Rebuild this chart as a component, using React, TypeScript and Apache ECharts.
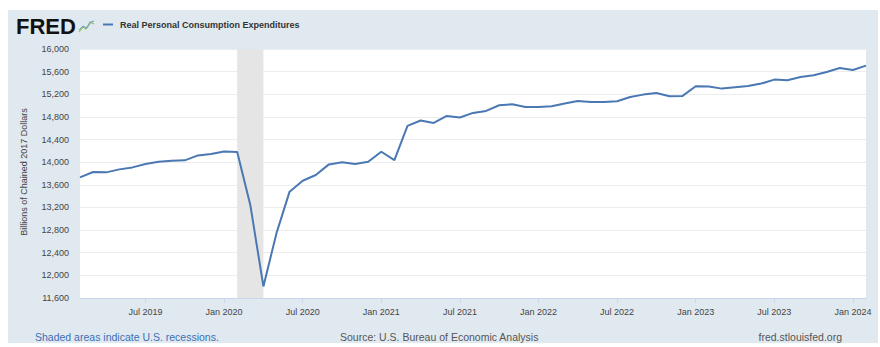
import React, { useEffect, useRef } from "react";
import * as echarts from "echarts";

const dates = [
  "2019-02", "2019-03", "2019-04", "2019-05", "2019-06", "2019-07", "2019-08", "2019-09", "2019-10", "2019-11", "2019-12",
  "2020-01", "2020-02", "2020-03", "2020-04", "2020-05", "2020-06", "2020-07", "2020-08", "2020-09", "2020-10", "2020-11", "2020-12",
  "2021-01", "2021-02", "2021-03", "2021-04", "2021-05", "2021-06", "2021-07", "2021-08", "2021-09", "2021-10", "2021-11", "2021-12",
  "2022-01", "2022-02", "2022-03", "2022-04", "2022-05", "2022-06", "2022-07", "2022-08", "2022-09", "2022-10", "2022-11", "2022-12",
  "2023-01", "2023-02", "2023-03", "2023-04", "2023-05", "2023-06", "2023-07", "2023-08", "2023-09", "2023-10", "2023-11", "2023-12",
  "2024-01", "2024-02",
];

const pce = [
  13732, 13826, 13820, 13873, 13908, 13967, 14007, 14025, 14032, 14120, 14143,
  14190, 14178, 13244, 11805, 12746, 13479, 13672, 13773, 13961, 13997, 13967, 14007,
  14184, 14037, 14642, 14737, 14694, 14818, 14790, 14871, 14906, 15006, 15024, 14976,
  14976, 14989, 15036, 15082, 15064, 15064, 15077, 15152, 15194, 15223, 15165, 15171,
  15341, 15336, 15300, 15323, 15346, 15389, 15459, 15447, 15505, 15535, 15593, 15664,
  15628, 15706,
];

const monthNames: Record<string, string> = { "01": "Jan", "07": "Jul" };
const recession = ["2020-02", "2020-04"];
const yTicks = { min: 11600, max: 16000, interval: 400 };

const FONT = "'Liberation Sans', Arial, sans-serif";

export default function App() {
  const ref = useRef<HTMLDivElement>(null);
  useEffect(() => {
    if (!ref.current) return;
    const chart = echarts.init(ref.current, null, { renderer: "svg" });
    const showLabel = (_i: number, v: string) => v.endsWith("-01") || v.endsWith("-07");
    chart.setOption({
      animation: false,
      backgroundColor: "#e1e9f0",
      grid: {
        left: 72,
        right: 12,
        top: 39,
        bottom: 45,
        show: true,
        backgroundColor: "#ffffff",
        borderWidth: 0,
      },
      xAxis: {
        type: "category",
        data: dates,
        boundaryGap: false,
        axisLine: { show: true, lineStyle: { color: "#ccd6eb", width: 1 } },
        axisTick: { show: true, interval: showLabel, length: 5, lineStyle: { color: "#ccd6eb" } },
        axisLabel: {
          interval: showLabel,
          margin: 9,
          color: "#444",
          fontFamily: FONT,
          fontSize: 9,
          formatter: (v: string) => `${monthNames[v.slice(5)] || ""} ${v.slice(0, 4)}`,
        },
        splitLine: { show: false },
      },
      yAxis: {
        type: "value",
        min: yTicks.min,
        max: yTicks.max,
        interval: yTicks.interval,
        axisLine: { show: false },
        axisTick: { show: false },
        axisLabel: {
          margin: 11,
          color: "#444",
          fontFamily: FONT,
          fontSize: 9,
          padding: [0, 0, 6, 0],
          formatter: (v: number) => v.toLocaleString("en-US"),
        },
        splitLine: { show: true, lineStyle: { color: "#ececec", width: 1 } },
      },
      series: [
        {
          type: "line",
          data: pce,
          symbol: "none",
          lineStyle: { color: "#4a78b3", width: 2 },
          markArea: {
            silent: true,
            itemStyle: { color: "#e5e5e5" },
            data: [[{ xAxis: recession[0] }, { xAxis: recession[1] }]],
          },
        },
      ],
      graphic: [
        {
          type: "text",
          left: 8,
          top: 5,
          style: {
            text: "FRED",
            fontFamily: FONT,
            fontSize: 22,
            fontWeight: 900,
            fill: "#111",
          },
        },
        {
          type: "polyline",
          shape: { points: [[71, 22], [75, 17], [78, 19], [82, 12], [86, 14]] },
          style: { stroke: "#8bbf5a", lineWidth: 1.2, fill: null },
        },
        {
          type: "polyline",
          shape: { points: [[71, 20], [75, 16], [79, 18], [83, 12], [86, 11]] },
          style: { stroke: "#6a9ad0", lineWidth: 1, fill: null },
        },
        {
          type: "line",
          shape: { x1: 95, y1: 14.5, x2: 105, y2: 14.5 },
          style: { stroke: "#4a78b3", lineWidth: 2 },
        },
        {
          type: "text",
          x: 112,
          y: 14.5,
          style: {
            text: "Real Personal Consumption Expenditures",
            fontFamily: FONT,
            fontSize: 9,
            fontWeight: "bold",
            fill: "#333",
            verticalAlign: "middle",
            align: "left",
          },
        },
        {
          type: "text",
          x: 16,
          y: 162,
          rotation: Math.PI / 2,
          style: {
            text: "Billions of Chained 2017 Dollars",
            fontFamily: FONT,
            fontSize: 9,
            fill: "#444",
            align: "center",
            verticalAlign: "middle",
          },
        },
        {
          type: "text",
          x: 27,
          y: 327,
          style: {
            text: "Shaded areas indicate U.S. recessions.",
            fontFamily: FONT,
            fontSize: 10.5,
            fill: "#3a6fb5",
            verticalAlign: "middle",
            align: "left",
          },
        },
        {
          type: "text",
          x: 332,
          y: 327,
          style: {
            text: "Source: U.S. Bureau of Economic Analysis",
            fontFamily: FONT,
            fontSize: 10.5,
            fill: "#555",
            verticalAlign: "middle",
            align: "left",
          },
        },
        {
          type: "text",
          x: 834,
          y: 327,
          style: {
            text: "fred.stlouisfed.org",
            fontFamily: FONT,
            fontSize: 10.5,
            fill: "#555",
            verticalAlign: "middle",
            align: "right",
          },
        },
      ],
    });
    return () => chart.dispose();
  }, []);
  return (
    <div
      ref={ref}
      style={{ position: "absolute", left: 8, top: 10, width: 870, height: 333 }}
    />
  );
}
